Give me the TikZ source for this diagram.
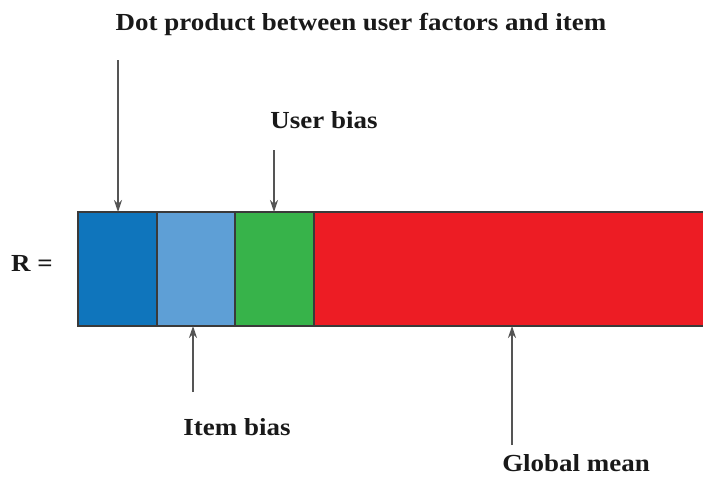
\documentclass[tikz,border=0pt]{standalone}
\usepackage{fontspec}
\setmainfont{Liberation Serif}
\usetikzlibrary{arrows.meta}
\definecolor{cdblue}{HTML}{0F75BC}
\definecolor{clblue}{HTML}{5E9FD6}
\definecolor{cgreen}{HTML}{37B34A}
\definecolor{cred}{HTML}{ED1C24}
\definecolor{cedge}{HTML}{3A3A3A}
\definecolor{carrow}{HTML}{555555}
\newcommand{\wide}[1]{\scalebox{1.1}[1]{#1}}
\begin{document}
\begin{tikzpicture}[x=1pt,y=-1pt,
  seg/.style={draw=cedge,line width=1.4pt,minimum height=114pt,inner sep=0pt,outer sep=0pt,anchor=north west},
  lbl/.style={font=\bfseries\fontsize{24.5}{28}\selectfont,text=black!90,inner sep=0pt,anchor=base},
  pointer/.style={draw=carrow,line width=1.5pt,-{Stealth[length=12pt,width=8pt]}}]
\useasboundingbox (0,0) rectangle (703,482);
\node[seg,fill=cdblue,minimum width=79pt] (s1) at (78,212) {};
\node[seg,fill=clblue,minimum width=78pt] (s2) at (157,212) {};
\node[seg,fill=cgreen,minimum width=79pt] (s3) at (235,212) {};
\node[seg,fill=cred,minimum width=395pt] (s4) at (314,212) {};
\node[lbl] (r) at (32,271) {\wide{R =}};
\node[lbl] (t1) at (361,30) {\wide{Dot product between user factors and item}};
\node[lbl] (t2) at (324,128) {\wide{User bias}};
\node[lbl] (t3) at (237,435) {\wide{Item bias}};
\node[lbl] (t4) at (576,471) {\wide{Global mean}};
\coordinate (a1) at (118,60);
\coordinate (a2) at (274,150);
\coordinate (a3) at (193,392);
\coordinate (a4) at (512,445);
\draw[pointer] (a1) -- (a1 |- s1.north);
\draw[pointer] (a2) -- (a2 |- s3.north);
\draw[pointer] (a3) -- (a3 |- s2.south);
\draw[pointer] (a4) -- (a4 |- s4.south);
\end{tikzpicture}
\end{document}
